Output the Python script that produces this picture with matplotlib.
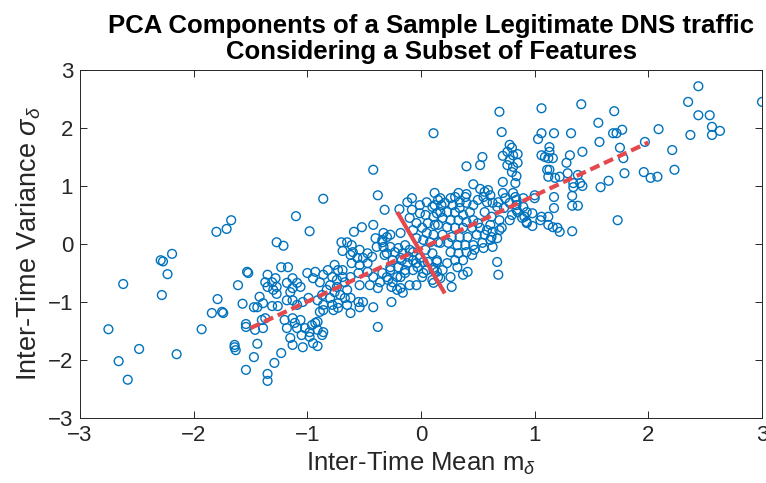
import matplotlib
matplotlib.use('Agg')
import matplotlib.pyplot as plt

# sample points (mean, variance)
far_left = [(-2.75, -1.47), (-2.66, -2.02), (-2.58, -2.34), (-2.62, -0.69), (-2.48, -1.81),
            (-2.28, -0.88), (-2.29, -0.28), (-2.27, -0.30), (-2.23, -0.52), (-2.19, -0.17),
            (-2.15, -1.90), (-1.93, -1.47), (-1.84, -1.19), (-1.80, 0.21), (-1.79, -0.95),
            (-1.75, -1.17), (-1.74, -1.19), (-1.71, 0.26), (-1.67, 0.41), (-1.64, -1.74),
            (-1.64, -1.78), (-1.63, -1.83), (-1.61, -0.71), (-1.57, -1.03), (-1.54, -1.38),
            (-1.54, -1.43), (-1.54, -2.17), (-1.53, -0.48), (-1.52, -0.50), (-1.47, -1.09),
            (-1.47, -1.95), (-1.44, -1.09), (-1.44, -1.72), (-1.42, -0.91), (-1.35, -2.24),
            (-1.35, -2.36), (-1.39, -1.02), (-1.40, -1.31), (-1.39, -1.45), (-1.46, -1.48),
            (-1.37, -0.66), (-1.35, -0.53), (-1.35, -0.74), (-1.37, -1.28)]

left_mid = [(-1.29, -2.05), (-1.28, -0.59), (-1.31, -0.66), (-1.27, -0.74), (-1.30, -0.79),
            (-1.27, -0.86), (-1.27, 0.03), (-1.21, -0.03), (-1.23, -0.40), (-1.17, -0.40),
            (-1.23, -1.88), (-1.18, -0.67), (-1.13, -0.59), (-1.09, -0.67), (-1.13, -0.76),
            (-1.06, -0.74), (-1.15, -0.83), (-1.31, -1.07), (-1.26, -1.07), (-1.18, -0.97),
            (-1.13, -0.97), (-1.09, -1.05), (-1.04, -1.00), (-0.99, -0.93), (-1.20, -1.31),
            (-1.13, -1.28), (-1.11, -1.36), (-1.06, -1.31), (-1.18, -1.45), (-1.09, -1.45),
            (-1.02, -1.45), (-0.96, -1.40), (-0.91, -1.34), (-0.91, -1.48), (-1.15, -1.62),
            (-1.05, -1.57), (-0.98, -1.60), (-0.87, -1.57), (-1.13, -1.74), (-1.04, -1.78),
            (-0.95, -1.71), (-0.91, -1.76), (-0.86, -1.52), (-1.10, 0.48), (-0.98, 0.22),
            (-0.86, 0.78), (-1.00, -0.50), (-0.93, -0.48), (-0.95, -0.59), (-0.89, -0.66),
            (-0.86, -0.53), (-0.82, -0.45), (-0.76, -0.36), (-0.73, -0.45), (-0.78, -0.57),
            (-0.74, -0.62), (-0.80, -0.71), (-0.74, -0.74), (-0.83, -0.79), (-0.76, -0.83),
            (-0.71, -0.88), (-0.80, -0.93), (-0.87, -0.88), (-0.91, -0.97), (-0.86, -1.05),
            (-0.78, -1.05), (-0.73, -1.02), (-0.93, -1.36), (-0.98, -1.52), (-0.89, -1.17),
            (-0.86, -1.14), (-0.77, -1.14), (-0.73, -1.10)]

center_left = [(-0.70, 0.03), (-0.65, 0.03), (-0.69, -0.12), (-0.61, -0.02), (-0.62, -0.19),
               (-0.67, -0.66), (-0.65, -0.79), (-0.67, -0.93), (-0.65, -1.05), (-0.69, -0.57),
               (-0.69, -0.45), (-0.62, -0.57), (-0.55, -0.50), (-0.47, -0.48), (-0.42, -0.57),
               (-0.34, -0.50), (-0.27, -0.45), (-0.36, -0.66), (-0.29, -0.62), (-0.21, -0.57),
               (-0.54, -0.71), (-0.45, -0.71), (-0.38, -0.76), (-0.26, -0.74), (-0.62, -0.93),
               (-0.55, -1.00), (-0.54, -1.09), (-0.42, -1.09), (-0.26, -1.00), (-0.62, -1.19),
               (-0.51, -1.00), (-0.38, -1.43), (-0.42, 1.28), (-0.38, 0.84), (-0.32, 0.59),
               (-0.59, 0.21), (-0.52, 0.29), (-0.42, 0.33), (-0.33, 0.19), (-0.27, 0.16),
               (-0.40, 0.10), (-0.34, 0.03), (-0.39, -0.05), (-0.33, -0.05), (-0.60, -0.14),
               (-0.54, -0.10), (-0.47, -0.16), (-0.56, -0.24), (-0.51, -0.24), (-0.43, -0.22),
               (-0.61, -0.33), (-0.54, -0.36), (-0.47, -0.33), (-0.30, -0.16), (-0.23, -0.14),
               (-0.25, -0.28), (-0.27, -0.40), (-0.34, 0.07), (-0.30, 0.12), (-0.27, -0.05),
               (-0.32, -0.19), (-0.25, -0.66), (-0.30, -0.57), (-0.21, -0.79)]

center = [(-0.19, 0.60), (-0.12, 0.72), (-0.08, 0.79), (-0.08, 0.59), (-0.01, 0.53),
          (0.04, 0.50), (0.10, 0.64), (0.14, 0.53), (-0.18, 0.19), (-0.16, -0.16),
          (-0.10, -0.10), (-0.17, -0.28), (-0.20, -0.40), (-0.12, -0.33), (-0.07, -0.28),
          (-0.10, 0.45), (-0.04, 0.36), (-0.07, 0.24), (0.01, 0.28), (0.06, 0.36),
          (0.12, 0.33), (0.05, 0.19), (0.11, 0.16), (0.08, 0.03), (0.15, 0.03),
          (0.02, 0.07), (-0.04, 0.10), (0.04, -0.10), (0.10, -0.16), (-0.01, -0.24),
          (0.06, -0.31), (0.14, -0.28), (-0.03, -0.40), (0.05, -0.45), (0.11, -0.41),
          (-0.14, -0.50), (-0.07, -0.45), (-0.18, -0.76), (-0.10, -0.71), (0.01, -0.57),
          (-0.16, -0.84), (-0.04, -0.71), (0.10, -0.62), (-0.20, -0.07), (-0.14, -0.02),
          (-0.18, -0.24), (-0.11, -0.22), (-0.07, -0.14), (-0.04, -0.33), (0.02, -0.31),
          (0.02, -0.50), (-0.14, -0.45), (-0.18, -0.57), (0.11, -0.67), (0.17, -0.59),
          (0.11, 1.91), (0.14, -0.31), (0.11, -0.45), (0.15, -0.57), (0.14, -0.48),
          (0.12, 0.88), (0.17, 0.79), (0.12, 0.67), (0.17, 0.55), (0.11, 0.47),
          (0.19, 0.45), (0.15, 0.33), (0.19, 0.16), (0.17, 0.02), (0.15, 0.76),
          (0.18, 0.67), (0.05, 0.72), (-0.01, 0.67), (0.19, -0.45)]

center_right = [(0.21, 0.71), (0.26, 0.79), (0.28, 0.67), (0.33, 0.88), (0.39, 0.81),
                (0.40, 0.71), (0.34, 0.62), (0.46, 0.67), (0.43, 0.55), (0.37, 0.50),
                (0.30, 0.55), (0.23, 0.55), (0.26, 0.41), (0.33, 0.41), (0.40, 0.38),
                (0.46, 0.41), (0.50, 0.36), (0.23, 0.29), (0.30, 0.28), (0.37, 0.28),
                (0.45, 0.28), (0.52, 0.28), (0.27, 0.12), (0.34, 0.12), (0.41, 0.12),
                (0.49, 0.16), (0.56, 0.16), (0.63, 0.21), (0.24, 0.02), (0.32, -0.02),
                (0.39, -0.02), (0.46, -0.02), (0.54, 0.02), (0.61, 0.07), (0.26, -0.14),
                (0.33, -0.16), (0.40, -0.14), (0.47, -0.10), (0.55, -0.07), (0.30, -0.28),
                (0.37, -0.28), (0.45, -0.19), (0.23, -0.33), (0.32, -0.40), (0.37, -0.53),
                (0.41, -0.48), (0.26, -0.57), (0.27, -0.74), (0.67, -0.31), (0.68, -0.53),
                (0.63, -0.05), (0.69, 0.24), (0.30, 0.81), (0.40, 0.86), (0.34, 0.72),
                (0.46, 1.03), (0.52, 0.95), (0.56, 0.90), (0.59, 0.93), (0.61, 0.84),
                (0.55, 0.81), (0.50, 0.76), (0.58, 0.72), (0.63, 0.71), (0.67, 0.64),
                (0.62, 0.47), (0.56, 0.55), (0.61, 0.33), (0.68, 0.72), (0.58, 0.24),
                (0.62, 0.12), (0.67, 0.10), (0.40, 1.34), (0.52, 1.36), (0.54, 1.50),
                (0.71, 1.93), (0.69, 2.28), (0.69, 0.41)]

right = [(0.78, 1.71), (0.80, 1.66), (0.76, 1.59), (0.81, 1.53), (0.85, 1.55),
         (0.72, 1.52), (0.78, 1.45), (0.76, 1.36), (0.81, 1.33), (0.85, 1.40),
         (0.80, 1.24), (0.84, 1.17), (0.83, 1.05), (0.72, 1.07), (0.72, 0.88),
         (0.74, 0.79), (0.78, 0.71), (0.84, 0.67), (0.90, 0.64), (0.93, 0.55),
         (0.85, 0.55), (0.80, 0.50), (0.89, 0.45), (0.93, 0.38), (0.78, 0.41),
         (0.71, 0.28), (0.81, 0.88), (0.84, 0.76), (0.73, 0.62), (0.84, 0.59),
         (0.91, 0.47), (0.98, 0.53), (1.06, 0.47), (1.12, 0.47), (0.93, 0.36),
         (0.98, 0.31), (1.05, 0.41), (1.12, 0.33), (1.16, 0.29), (1.20, 0.28),
         (1.22, 0.21), (1.33, 0.22), (1.00, 0.84), (1.00, 0.79), (0.90, 0.79),
         (0.83, 0.81), (1.17, 0.81), (1.17, 0.62), (1.33, 0.83), (1.38, 0.66),
         (1.33, 0.66), (1.34, 1.05), (1.38, 1.19), (1.40, 1.05), (1.42, 1.00),
         (1.34, 0.98), (1.11, 1.28), (1.13, 1.28), (1.12, 1.16), (1.18, 1.14),
         (1.22, 1.16), (1.29, 1.22), (1.06, 1.53), (1.09, 1.50), (1.12, 1.48),
         (1.16, 1.48), (1.13, 1.67), (1.13, 1.59), (1.31, 1.53), (1.28, 1.40),
         (1.42, 1.59), (1.06, 1.91), (1.03, 1.81), (1.17, 1.91), (1.32, 1.91),
         (1.06, 2.34), (1.41, 2.41)]

far_right = [(1.56, 2.09), (1.57, 1.76), (1.70, 2.29), (1.77, 1.97), (1.69, 1.91),
             (1.72, 1.91), (1.75, 1.66), (1.78, 1.48), (1.58, 0.98), (1.65, 1.09),
             (1.79, 1.22), (1.73, 0.41), (1.97, 1.76), (1.96, 1.24), (2.02, 1.14),
             (2.08, 1.16), (2.09, 1.98), (2.21, 1.62), (2.23, 1.28), (2.35, 2.45),
             (2.37, 1.88), (2.44, 2.72), (2.44, 2.22), (2.54, 2.22), (2.56, 2.02),
             (2.56, 1.88), (2.63, 1.95), (3.00, 2.45)]

# principal component directions
pc1_x = [-1.5, 2.0]
pc1_y = [-1.45, 1.75]
pc2_x = [-0.2, 0.2]
pc2_y = [0.52, -0.82]

ticks = [-3, -2, -1, 0, 1, 2, 3]

plt.rcParams['font.family'] = ['Liberation Sans', 'DejaVu Sans']
plt.rcParams['mathtext.fontset'] = 'custom'
plt.rcParams['mathtext.rm'] = 'Liberation Sans'
plt.rcParams['mathtext.it'] = 'Liberation Sans:italic'

pts = far_left + left_mid + center_left + center + center_right + right + far_right
xs = [p[0] for p in pts]
ys = [p[1] for p in pts]

fig = plt.figure(figsize=(7.66, 4.83), dpi=100)
ax = fig.add_axes([80 / 766, 65 / 483, 682 / 766, 348 / 483])

ax.scatter(xs, ys, s=40, facecolors='none', edgecolors='#0072BD', linewidths=1.0, zorder=2)
ax.plot(pc1_x, pc1_y, color='#e5484d', lw=3, dashes=(2.4, 1.2), zorder=3)
ax.plot(pc2_x, pc2_y, color='#e5484d', lw=3, zorder=3)

ax.set_xlim(-3, 3)
ax.set_ylim(-3, 3)
ax.set_xticks(ticks)
ax.set_yticks(ticks)
ax.tick_params(direction='in', top=True, right=True, length=5, width=0.7,
               colors='#262626', labelsize=16, pad=5)
for sp in ax.spines.values():
    sp.set_color('#262626')
    sp.set_linewidth(0.7)

ax.set_xlabel(r'Inter-Time Mean m$_{\delta}$', fontsize=18.5, color='#262626', labelpad=3)
ax.set_ylabel(r'Inter-Time Variance $\sigma_{\delta}$', fontsize=19.5, color='#262626', labelpad=3)
ax.set_title('PCA Components of a Sample Legitimate DNS traffic\nConsidering a Subset of Features',
             fontsize=18.5, fontweight='bold', pad=8, linespacing=1.12, x=0.515)

fig.savefig('out.png', dpi=100)
